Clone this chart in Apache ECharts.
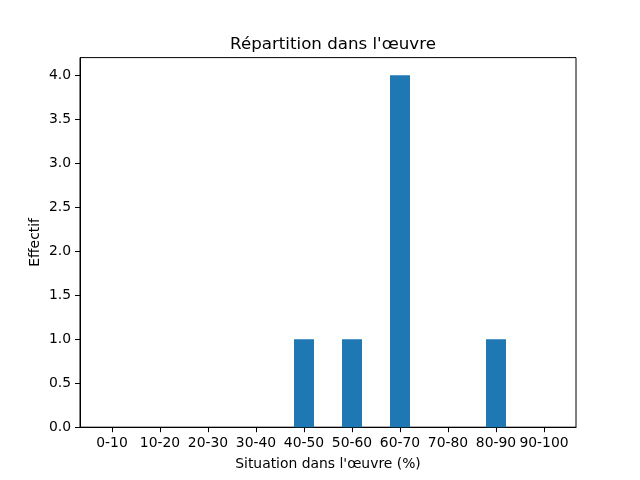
<!DOCTYPE html>
<html>
<head>
<meta charset="utf-8">
<script src="https://cdn.jsdelivr.net/npm/echarts@6/dist/echarts.min.js"></script>
<style>html,body{margin:0;padding:0;background:#fff}#c{width:640px;height:480px}</style>
</head>
<body>
<div id="c"></div>
<script>
const categories = ['0-10','10-20','20-30','30-40','40-50','50-60','60-70','70-80','80-90','90-100'];
const counts = [0, 0, 0, 0, 1, 1, 4, 0, 1, 0];
const yTicks = [0, 0.5, 1, 1.5, 2, 2.5, 3, 3.5, 4];
const titleText = "Répartition dans l'œuvre";
const xName = "Situation dans l'œuvre (%)";
const yName = "Effectif";

const font = 'DejaVu Sans';
const chart = echarts.init(document.getElementById('c'), null, {renderer: 'canvas'});
const xIdx = categories.map((c, i) => i);
chart.setOption({
  animation: false,
  backgroundColor: '#fff',
  title: {
    text: titleText, left: 328, top: 31, textAlign: 'center',
    textStyle: {fontFamily: font, fontSize: 16.67, fontWeight: 'normal', color: '#000'}
  },
  grid: {left: 80, right: 64, top: 57.6, bottom: 52.8, containLabel: false, outerBoundsMode: 'none',
         show: true, borderColor: '#000', borderWidth: 1, backgroundColor: 'transparent'},
  xAxis: {
    type: 'value', min: -2/3, max: 29/3,
    name: xName, nameLocation: 'middle', nameGap: 30, nameMoveOverlap: false,
    nameTextStyle: {fontFamily: font, fontSize: 13.9, color: '#000'},
    axisLine: {show: true, onZero: false, lineStyle: {color: '#000', width: 1}},
    axisTick: {show: true, length: 5, customValues: xIdx, lineStyle: {color: '#000', width: 1}},
    axisLabel: {customValues: xIdx, margin: 9, fontFamily: font, fontSize: 13.9, color: '#000',
                formatter: v => categories[Math.round(v)]},
    splitLine: {show: false}
  },
  yAxis: {
    type: 'value', min: 0, max: 4.2,
    name: yName, nameLocation: 'middle', nameGap: 38, nameMoveOverlap: false,
    nameTextStyle: {fontFamily: font, fontSize: 13.9, color: '#000'},
    axisLine: {show: true, onZero: false, lineStyle: {color: '#000', width: 1}},
    axisTick: {show: true, length: 5, customValues: yTicks, lineStyle: {color: '#000', width: 1}},
    axisLabel: {customValues: yTicks, margin: 9, fontFamily: font, fontSize: 13.9, color: '#000',
                formatter: v => v.toFixed(1)},
    splitLine: {show: false}
  },
  series: [{
    type: 'bar', barWidth: 20,
    itemStyle: {color: '#1f77b4'},
    data: counts.map((v, i) => [i, v])
  }]
});
</script>
</body>
</html>
